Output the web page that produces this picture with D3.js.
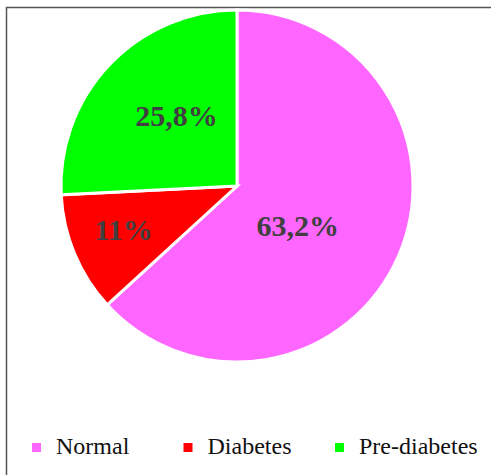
<!DOCTYPE html>
<html>
<head>
<meta charset="utf-8">
<script src="https://cdn.jsdelivr.net/npm/d3@7"></script>
<style>
  html, body { margin: 0; padding: 0; background: #fff; }
  svg { display: block; }
  text { font-family: "Liberation Serif", "Times New Roman", Times, serif; }
</style>
</head>
<body>
<div class="chart"></div>
<script>
const categories = ["Normal", "Diabetes", "Pre-diabetes"];
const values = [63.2, 11, 25.8];
const valueLabels = ["63,2%", "11%", "25,8%"];
const colors = ["#ff66ff", "#ff0000", "#00ff00"];

// label placement (angle nudge in degrees, distance as share of radius)
const labelNudge = [9, 1.6, 6];
const labelDist = [0.41, 0.69, 0.53];

const width = 491;
const height = 475;
const cx = 237;
const cy = 186;
const radius = 176;

const svg = d3
  .select(".chart")
  .append("svg")
  .attr("width", width)
  .attr("height", height);

svg
  .append("rect")
  .attr("x", 6.5)
  .attr("y", 7.5)
  .attr("width", width + 20)
  .attr("height", height + 20)
  .attr("fill", "#fff")
  .attr("stroke", "#555")
  .attr("stroke-width", 1.5);

const pie = d3.pie().sort(null).value((d) => d);
const arcs = pie(values);
const arc = d3.arc().innerRadius(0).outerRadius(radius);

const g = svg.append("g").attr("transform", `translate(${cx},${cy})`);

g.selectAll("path")
  .data(arcs)
  .join("path")
  .attr("d", arc)
  .attr("fill", (d, i) => colors[i])
  .attr("stroke", "#fff")
  .attr("stroke-width", 3)
  .attr("stroke-linejoin", "miter");

g.selectAll("text")
  .data(arcs)
  .join("text")
  .attr("transform", (d, i) => {
    const a = (d.startAngle + d.endAngle) / 2 + (labelNudge[i] * Math.PI) / 180;
    const r = radius * labelDist[i];
    return `translate(${r * Math.sin(a)},${-r * Math.cos(a)})`;
  })
  .attr("text-anchor", "middle")
  .attr("dy", "0.35em")
  .attr("font-weight", "bold")
  .attr("font-size", 30)
  .attr("fill", "#404040")
  .text((d, i) => valueLabels[i]);

const legendX = d3.scalePoint().domain(categories).range([32, 335]);

const legend = svg
  .append("g")
  .selectAll("g")
  .data(categories)
  .join("g")
  .attr("transform", (d) => `translate(${legendX(d)},443)`);

legend
  .append("rect")
  .attr("width", 9)
  .attr("height", 9)
  .attr("fill", (d, i) => colors[i]);

legend
  .append("text")
  .attr("x", 24)
  .attr("y", 11)
  .attr("font-size", 24)
  .attr("fill", "#111")
  .text((d) => d);
</script>
</body>
</html>
